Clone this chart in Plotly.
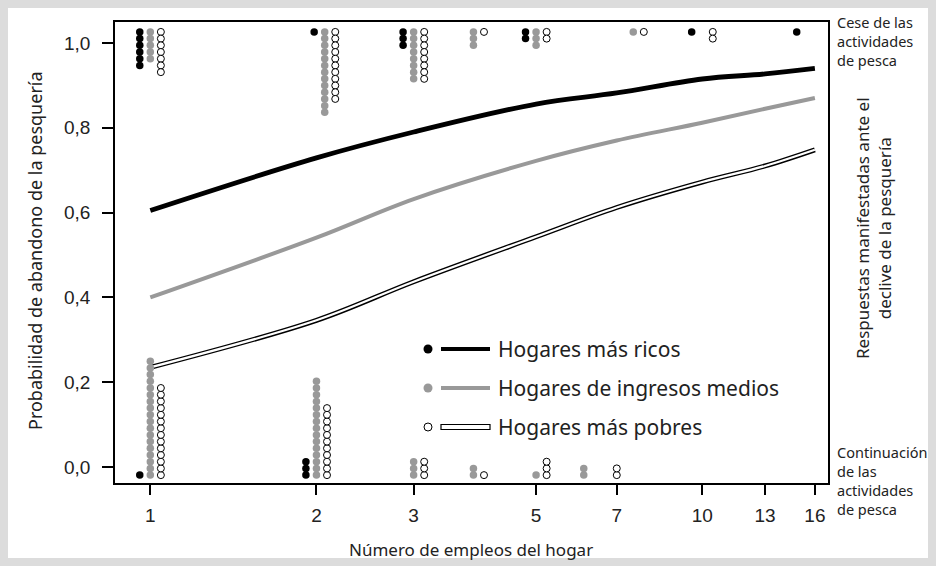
import plotly.graph_objects as go

# fitted probability curves
curve_x = [1, 2, 3, 5, 7, 10, 13, 16]
rich = [0.605, 0.729, 0.79, 0.856, 0.882, 0.915, 0.927, 0.94]
mid = [0.40, 0.541, 0.632, 0.722, 0.77, 0.812, 0.845, 0.87]
poor = [0.235, 0.346, 0.437, 0.543, 0.612, 0.672, 0.71, 0.748]

# observed households: counts stacked at the top (stopped fishing)
jobs_top = [1, 2.07, 3, 3.85, 5, 7.5, 10, 15.5]
top_black = [6, 1, 3, 0, 2, 0, 1, 1]
top_gray = [5, 13, 8, 3, 3, 1, 0, 0]
top_white = [7, 11, 8, 1, 2, 1, 2, 0]

# ... and at the bottom (kept fishing)
jobs_bot = [1, 2, 3, 3.85, 5, 6.1, 6.7]
bot_black = [1, 3, 0, 0, 0, 0, 0]
bot_gray = [18, 15, 3, 2, 1, 2, 0]
bot_white = [14, 11, 3, 1, 3, 0, 2]

x_ticks = [1, 2, 3, 5, 7, 10, 13, 16]
y_ticks = [0, 0.2, 0.4, 0.6, 0.8, 1.0]
y_labels = ["0,0", "0,2", "0,4", "0,6", "0,8", "1,0"]

GRAY = "#999999"
step = 0.0158
shift = {"black": 1 / 1.045, "gray": 1.0, "white": 1.045}


def stack(jobs, counts, col, top):
    xs, ys = [], []
    for j, n in zip(jobs, counts):
        for k in range(n):
            xs.append(j * shift[col])
            ys.append(1.026 - k * step if top else -0.019 + k * step)
    return xs, ys


fig = go.Figure()

# curves
fig.add_trace(go.Scatter(x=curve_x, y=rich, mode="lines", line=dict(color="black", width=4.8, shape="spline")))
fig.add_trace(go.Scatter(x=curve_x, y=mid, mode="lines", line=dict(color=GRAY, width=4, shape="spline")))
fig.add_trace(go.Scatter(x=curve_x, y=poor, mode="lines", line=dict(color="black", width=5, shape="spline")))
fig.add_trace(go.Scatter(x=curve_x, y=poor, mode="lines", line=dict(color="white", width=2.2, shape="spline")))

styles = {
    "black": dict(color="black", size=7.5, line=dict(width=0)),
    "gray": dict(color=GRAY, size=7.5, line=dict(width=0)),
    "white": dict(color="white", size=7, line=dict(color="black", width=1)),
}
for top, jobs, counts in [
    (True, jobs_top, {"black": top_black, "gray": top_gray, "white": top_white}),
    (False, jobs_bot, {"black": bot_black, "gray": bot_gray, "white": bot_white}),
]:
    for col in ["black", "gray", "white"]:
        xs, ys = stack(jobs, counts[col], col, top)
        fig.add_trace(go.Scatter(x=xs, y=ys, mode="markers", marker=styles[col], cliponaxis=False))

# geometry helpers (pixel -> paper)
L, R, T, B = 115, 828, 22, 483
W, H = R - L, B - T


def px(x):
    return (x - L) / W


def py(y):
    return (B - y) / H


shapes = [
    dict(type="rect", xref="paper", yref="paper", x0=px(8), x1=px(928), y0=py(558), y1=py(8),
         fillcolor="white", line=dict(width=0), layer="below"),
]

# legend
leg_rows = [
    (349, "black", "Hogares más ricos"),
    (388, GRAY, "Hogares de ingresos medios"),
    (427, "white", "Hogares más pobres"),
]
annotations = []
for yy, col, label in leg_rows:
    if col == "white":
        shapes.append(dict(type="circle", xref="paper", yref="paper", xsizemode="pixel", ysizemode="pixel",
                           xanchor=px(428), yanchor=py(yy), x0=-4, x1=4, y0=-4, y1=4,
                           fillcolor="white", line=dict(color="black", width=1)))
        shapes.append(dict(type="rect", xref="paper", yref="paper", x0=px(441), x1=px(490),
                           y0=py(yy + 2.5), y1=py(yy - 2.5), fillcolor="white",
                           line=dict(color="black", width=1.2)))
    else:
        shapes.append(dict(type="circle", xref="paper", yref="paper", xsizemode="pixel", ysizemode="pixel",
                           xanchor=px(428), yanchor=py(yy), x0=-4.5, x1=4.5, y0=-4.5, y1=4.5,
                           fillcolor=col, line=dict(width=0)))
        shapes.append(dict(type="line", xref="paper", yref="paper", x0=px(441), x1=px(490),
                           y0=py(yy), y1=py(yy), line=dict(color=col, width=4)))
    annotations.append(dict(xref="paper", yref="paper", x=px(496), y=py(yy), text=label, showarrow=False,
                            xanchor="left", yanchor="middle", font=dict(family="Noto Sans", size=21, color="#222")))

annotations += [
    dict(xref="paper", yref="paper", x=px(835), y=py(10), text="Cese de las<br>actividades<br>de pesca",
         showarrow=False, xanchor="left", yanchor="top", align="left",
         font=dict(family="Noto Sans", size=14.5, color="#222")),
    dict(xref="paper", yref="paper", x=px(835), y=py(440), text="Continuación<br>de las<br>actividades<br>de pesca",
         showarrow=False, xanchor="left", yanchor="top", align="left",
         font=dict(family="Noto Sans", size=14.5, color="#222")),
    dict(xref="paper", yref="paper", x=px(874), y=py(228),
         text="Respuestas manifestadas ante el<br>declive de la pesquería", textangle=-90,
         showarrow=False, xanchor="center", yanchor="middle",
         font=dict(family="Noto Sans", size=17, color="#222")),
    dict(xref="paper", yref="paper", x=px(35), y=py(251),
         text="Probabilidad de abandono de la pesquería", textangle=-90,
         showarrow=False, xanchor="center", yanchor="middle",
         font=dict(family="Noto Sans", size=18, color="#222")),
    dict(xref="paper", yref="paper", x=px(471), y=py(549),
         text="Número de empleos del hogar",
         showarrow=False, xanchor="center", yanchor="middle",
         font=dict(family="Noto Sans", size=17, color="#222")),
]

fig.update_layout(
    width=936, height=566,
    margin=dict(l=L, r=936 - R, t=T, b=566 - B),
    paper_bgcolor="#dcdcdc", plot_bgcolor="white",
    showlegend=False,
    shapes=shapes, annotations=annotations,
    xaxis=dict(type="log", range=[-0.0640, 1.2279], tickvals=x_ticks, ticktext=[str(v) for v in x_ticks],
               ticks="outside", ticklen=10, tickwidth=1.5, tickcolor="black", ticklabelstandoff=4,
               showline=True, linecolor="black", linewidth=1.8, mirror=True,
               showgrid=False, zeroline=False,
               tickfont=dict(family="Liberation Sans", size=19, color="#222")),
    yaxis=dict(range=[-0.0376, 1.0494], tickvals=y_ticks, ticktext=y_labels,
               ticks="outside", ticklen=11, tickwidth=1.5, tickcolor="black", ticklabelstandoff=8,
               showline=True, linecolor="black", linewidth=1.8, mirror=True,
               showgrid=False, zeroline=False,
               tickfont=dict(family="Liberation Sans", size=19, color="#222")),
)

# drop the page margin so the figure sits at the window's corner
fig.write_html("out.html", config={"displayModeBar": False},
               post_script="document.body.style.margin='0';document.body.style.background='#dcdcdc';")
